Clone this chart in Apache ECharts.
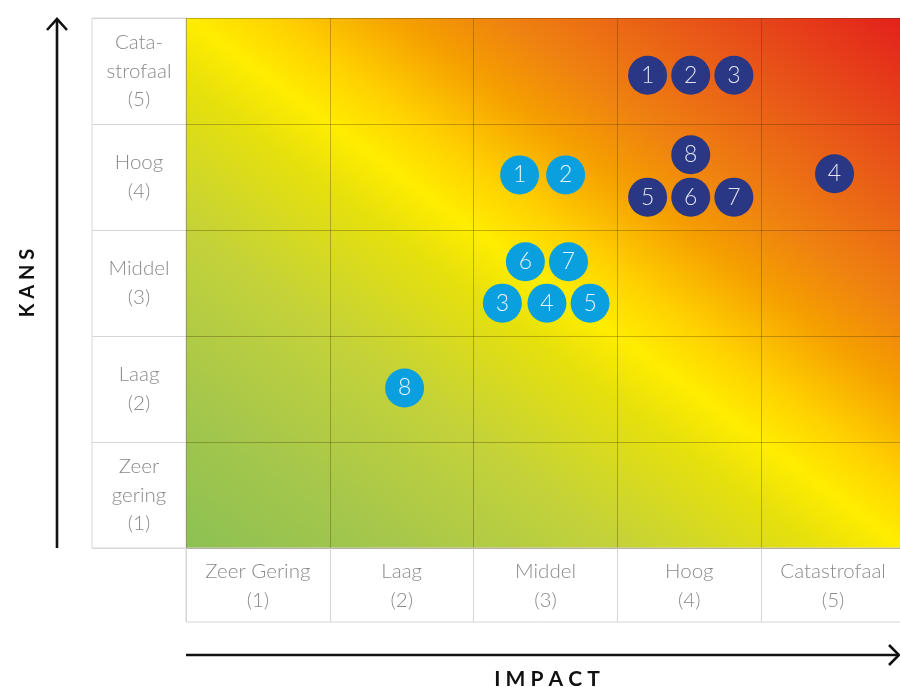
<!DOCTYPE html>
<html>
<head>
<meta charset="utf-8">
<script src="https://cdn.jsdelivr.net/npm/echarts@6/dist/echarts.min.js"></script>
<style>
html,body{margin:0;padding:0;background:#fff;}
#chart{width:900px;height:687px;}
</style>
</head>
<body>
<div id="chart"></div>
<script>
// ---- data ----
var impactLabels = ['Zeer Gering\n(1)', 'Laag\n(2)', 'Middel\n(3)', 'Hoog\n(4)', 'Catastrofaal\n(5)'];
var kansLabels = ['Zeer\ngering\n(1)', 'Laag\n(2)', 'Middel\n(3)', 'Hoog\n(4)', 'Cata-\nstrofaal\n(5)'];
var xTitle = 'I M P A C T';
var yTitle = 'K A N S';
// dark (navy) risks: [impact position, kans position, number]
var darkRisks = [
  [3.21, 4.46, 1], [3.51, 4.46, 2], [3.81, 4.46, 3],
  [4.51, 3.53, 4],
  [3.21, 3.31, 5], [3.51, 3.31, 6], [3.81, 3.31, 7],
  [3.51, 3.71, 8]
];
// light (blue) risks
var lightRisks = [
  [2.32, 3.52, 1], [2.64, 3.52, 2],
  [2.20, 2.31, 3], [2.51, 2.31, 4], [2.81, 2.31, 5],
  [2.36, 2.70, 6], [2.66, 2.70, 7],
  [1.52, 1.51, 8]
];

var W = 719, H = 530;
var D2 = W * W + H * H;
var gx = 0.5 - (H * H) / D2, gy = 0.5 + (W * W) / D2;
var grad = new echarts.graphic.LinearGradient(gx, gy, 1 - gx, 1 - gy, [
  {offset: 0, color: '#8cc153'},
  {offset: 0.15, color: '#a6c74b'},
  {offset: 0.3, color: '#c3d23a'},
  {offset: 0.44, color: '#e6e00c'},
  {offset: 0.5, color: '#ffed00'},
  {offset: 0.56, color: '#ffd200'},
  {offset: 0.65, color: '#f59e00'},
  {offset: 0.72, color: '#ef8210'},
  {offset: 0.85, color: '#e85518'},
  {offset: 1, color: '#e3201b'}
]);

var FONT = 'Lato';
var TXT = '#8a8a8a';
var chart = echarts.init(document.getElementById('chart'), null, {renderer: 'canvas'});

function bubbleSeries(data, color, txtColor) {
  return {
    type: 'scatter', xAxisIndex: 0, yAxisIndex: 0,
    data: data, symbolSize: 39, z: 5,
    itemStyle: {color: color, opacity: 1},
    label: {
      show: true, position: 'inside',
      formatter: function (p) { return String(p.value[2]); },
      color: txtColor, fontFamily: FONT, fontWeight: 300, fontSize: 23
    },
    emphasis: {disabled: true}
  };
}

chart.setOption({
  animation: false,
  backgroundColor: '#fff',
  grid: [
    {left: 186, top: 18, width: W, height: H, show: true, backgroundColor: grad, borderWidth: 0, outerBoundsMode: 'none', containLabel: false},
    {left: 92, top: 18, width: 94, height: H, show: true, backgroundColor: '#fff', borderColor: '#d6d6d6', borderWidth: 1, outerBoundsMode: 'none'},
    {left: 186, top: 548, width: W, height: 74, show: true, backgroundColor: '#fff', borderColor: '#d6d6d6', borderWidth: 1, outerBoundsMode: 'none'}
  ],
  xAxis: [
    {type: 'value', gridIndex: 0, min: 0, max: 5, interval: 1,
     axisLine: {show: false}, axisTick: {show: false}, axisLabel: {show: false},
     splitLine: {show: true, lineStyle: {color: 'rgba(70,50,0,0.32)', width: 1}}},
    {type: 'value', gridIndex: 1, show: false},
    {type: 'category', gridIndex: 2, data: impactLabels, position: 'bottom',
     axisLine: {show: false}, axisTick: {show: false},
     axisLabel: {interval: 0, margin: -36, verticalAlign: 'middle', align: 'center',
                 color: TXT, fontFamily: FONT, fontWeight: 300, fontSize: 20.5, lineHeight: 29},
     splitLine: {show: true, interval: 0, lineStyle: {color: '#d6d6d6', width: 1}}}
  ],
  yAxis: [
    {type: 'value', gridIndex: 0, min: 0, max: 5, interval: 1,
     axisLine: {show: false}, axisTick: {show: false}, axisLabel: {show: false},
     splitLine: {show: true, lineStyle: {color: 'rgba(70,50,0,0.32)', width: 1}}},
    {type: 'category', gridIndex: 1, data: kansLabels, position: 'left',
     axisLine: {show: false}, axisTick: {show: false},
     axisLabel: {interval: 0, margin: -47, align: 'center', verticalAlign: 'middle',
                 color: TXT, fontFamily: FONT, fontWeight: 300, fontSize: 20.5, lineHeight: 28.5},
     splitLine: {show: true, interval: 0, lineStyle: {color: '#d6d6d6', width: 1}}},
    {type: 'value', gridIndex: 2, show: false}
  ],
  graphic: [
    {type: 'line', shape: {x1: 57, y1: 548, x2: 57, y2: 20}, style: {stroke: '#111', lineWidth: 2.6}},
    {type: 'polyline', shape: {points: [[47, 30], [57, 19], [67, 30]]}, style: {stroke: '#111', lineWidth: 2.6, fill: null}},
    {type: 'line', shape: {x1: 186, y1: 655, x2: 898, y2: 655}, style: {stroke: '#111', lineWidth: 2.6}},
    {type: 'polyline', shape: {points: [[889, 645], [899, 655], [889, 665]]}, style: {stroke: '#111', lineWidth: 2.6, fill: null}},
    {type: 'text', x: 28, y: 283, rotation: Math.PI / 2,
     style: {text: yTitle, fill: '#111', font: 'bold 20px Lato', textAlign: 'center', textVerticalAlign: 'middle'}},
    {type: 'text', x: 547, y: 669,
     style: {text: xTitle, fill: '#111', font: 'bold 21px Lato', textAlign: 'center', textVerticalAlign: 'top'}}
  ],
  series: [
    bubbleSeries(darkRisks, '#2a3784', '#dfe2ef'),
    bubbleSeries(lightRisks, '#0aa0e0', '#e6f4fb')
  ]
});
</script>
</body>
</html>
